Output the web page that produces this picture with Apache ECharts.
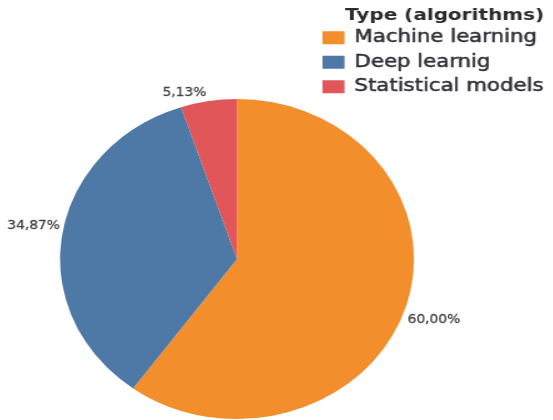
<!DOCTYPE html>
<html>
<head>
<meta charset="utf-8">
<script src="https://cdn.jsdelivr.net/npm/echarts@6/dist/echarts.min.js"></script>
<style>
  html, body { margin: 0; padding: 0; background: #fff; }
  #wrap { position: relative; width: 553px; height: 420px; overflow: hidden; }
  #pie { position: absolute; left: 0; top: 0; width: 500px; height: 420px;
         transform: scaleX(1.106); transform-origin: 0 0; }
  #key { position: absolute; left: 300px; top: 0; width: 200px; height: 100px;
         transform: scaleX(1.25); transform-origin: 0 0; }
</style>
</head>
<body>
<div id="wrap">
  <div id="pie"></div>
  <div id="key"></div>
</div>
<script>
// Share of studies by algorithm type (percent)
const categories = ['Machine learning', 'Deep learnig', 'Statistical models'];
const shares = [60.00, 34.87, 5.13];
const colors = ['#F28E2B', '#4E79A7', '#E15759'];
const legendTitle = 'Type (algorithms)';

const slices = categories.map((name, i) => ({
  name: name,
  value: shares[i],
  itemStyle: { color: colors[i] }
}));

const fmtPct = v => v.toFixed(2).replace('.', ',') + '%';

// Pie with outside percentage labels
const pie = echarts.init(document.getElementById('pie'), null, { renderer: 'canvas' });
pie.setOption({
  animation: false,
  series: [{
    type: 'pie',
    center: [214.3, 259],
    radius: [0, 160],
    startAngle: 90,
    clockwise: true,
    avoidLabelOverlap: false,
    data: slices,
    itemStyle: { borderWidth: 0 },
    label: {
      show: true,
      position: 'outside',
      formatter: p => fmtPct(p.value),
      fontFamily: 'DejaVu Sans',
      fontSize: 12.5,
      color: '#444444',
      textBorderColor: '#444444',
      textBorderWidth: 0.3
    },
    labelLine: { show: false, length: 0, length2: 0 },
    // left-side labels sit above their slice edge, right-side labels below
    labelLayout: p => p.align === 'right'
      ? { dx: 3, dy: -(p.labelRect.height / 2 + 2) }
      : { dx: -3, dy: p.labelRect.height / 2 + 5 },
    emphasis: { disabled: true }
  }]
});

// Colour key
const key = echarts.init(document.getElementById('key'), null, { renderer: 'canvas' });
key.setOption({
  animation: false,
  title: {
    text: legendTitle,
    left: 36,
    top: 8,
    padding: 0,
    textStyle: {
      fontFamily: 'DejaVu Sans', fontWeight: 'bold', fontSize: 16, color: '#2b2b2b'
    }
  },
  legend: {
    orient: 'vertical',
    left: 18,
    top: 29,
    padding: 0,
    itemWidth: 17.6,
    itemHeight: 13,
    itemGap: 7,
    icon: 'rect',
    selectedMode: false,
    data: categories,
    textStyle: {
      fontFamily: 'DejaVu Sans', fontSize: 17, lineHeight: 17, color: '#2e2e36',
      textBorderColor: '#2e2e36', textBorderWidth: 0.5, padding: [0, 0, 0, 3]
    }
  },
  series: [{
    type: 'pie',
    radius: [0, 0],
    silent: true,
    label: { show: false },
    labelLine: { show: false },
    data: slices
  }]
});
</script>
</body>
</html>
